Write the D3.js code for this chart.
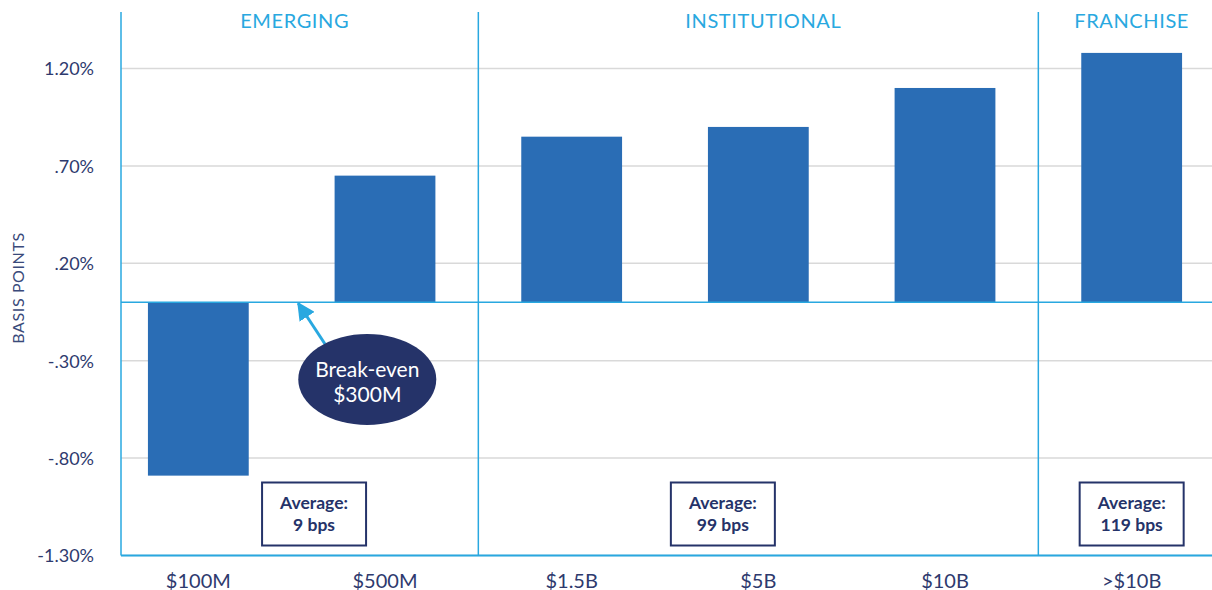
<!DOCTYPE html>
<html><head><meta charset="utf-8">
<script src="https://cdn.jsdelivr.net/npm/d3@7"></script>
<style>body{margin:0;background:#fff}svg{display:block}</style>
</head><body>
<svg id="c" width="1212" height="590"></svg>
<script>
const categories = ["$100M", "$500M", "$1.5B", "$5B", "$10B", ">$10B"];
const values = [-0.89, 0.65, 0.85, 0.90, 1.10, 1.28];
const groups = ["EMERGING", "EMERGING", "INSTITUTIONAL", "INSTITUTIONAL", "INSTITUTIONAL", "FRANCHISE"];
const sectionNames = ["EMERGING", "INSTITUTIONAL", "FRANCHISE"];
const tickValues = [1.2, 0.7, 0.2, -0.3, -0.8, -1.3];
const tickLabels = ["1.20%", ".70%", ".20%", "-.30%", "-.80%", "-1.30%"];
const averageLines = [["Average:", "9 bps"], ["Average:", "99 bps"], ["Average:", "119 bps"]];
const averagePos = [0.62, 2.81, 5];   // position in category-index units
const breakEvenLines = ["Break-even", "$300M"];
const breakEvenPos = 0.535;           // $300M lies between $100M and $500M

const navy = "#253369", blue = "#2a6db5", light = "#29a8e0", grid = "#d9d9d9";
const svg = d3.select("#c");
const pLeft = 121, pRight = 1212, pTop = 12, pBottom = 555.5;

const x = d3.scaleBand().domain(categories).range([105, 1225]).paddingInner(0.46).paddingOuter(0.23);
const y = d3.scaleLinear().domain([-1.3, 1.49]).range([pBottom, pTop]);
const bw = x.bandwidth();
const cx = i => x(categories[0]) + bw / 2 + i * x.step();

// gridlines
svg.append("g").selectAll("line").data(tickValues).join("line")
  .attr("x1", pLeft).attr("x2", pRight)
  .attr("y1", d => y(d)).attr("y2", d => y(d))
  .attr("stroke", grid).attr("stroke-width", 1.5);

// y axis labels
const yAxis = d3.axisLeft(y).tickValues(tickValues).tickSize(0).tickPadding(0)
  .tickFormat((d, i) => tickLabels[i]);
const ya = svg.append("g").attr("transform", `translate(94,0)`).call(yAxis);
ya.select(".domain").remove();
ya.selectAll("text").attr("font-family", "Lato, 'Open Sans', sans-serif").attr("font-size", 18)
  .attr("fill", "#2e3a6e").attr("dy", "0.35em");

// axis title
svg.append("text").attr("transform", `translate(24,288) rotate(-90)`)
  .attr("text-anchor", "middle").attr("font-family", "Lato, sans-serif")
  .attr("font-size", 16).attr("fill", "#3a4a7a").attr("letter-spacing", 0.6).text("BASIS POINTS");

// bars
svg.append("g").selectAll("rect").data(values).join("rect")
  .attr("x", (d, i) => x(categories[i])).attr("width", bw)
  .attr("y", d => y(Math.max(0, d))).attr("height", d => Math.abs(y(d) - y(0)))
  .attr("fill", blue);

// section separators
const sepX = [pLeft];
for (let i = 1; i < categories.length; i++) {
  if (groups[i] !== groups[i - 1]) sepX.push((x(categories[i - 1]) + bw + x(categories[i])) / 2);
}
svg.append("g").selectAll("line").data(sepX).join("line")
  .attr("x1", d => d).attr("x2", d => d).attr("y1", pTop).attr("y2", pBottom)
  .attr("stroke", light).attr("stroke-width", 1.5);

// zero line and bottom axis
svg.append("line").attr("x1", pLeft).attr("x2", pRight).attr("y1", y(0)).attr("y2", y(0))
  .attr("stroke", light).attr("stroke-width", 1.5);
svg.append("line").attr("x1", pLeft).attr("x2", pRight).attr("y1", pBottom).attr("y2", pBottom)
  .attr("stroke", light).attr("stroke-width", 2);

// x labels
const xAxis = d3.axisBottom(x).tickSize(0).tickPadding(0);
const xa = svg.append("g").attr("transform", `translate(0,${pBottom})`).call(xAxis);
xa.select(".domain").remove();
xa.selectAll("text").attr("font-family", "Lato, 'Open Sans', sans-serif").attr("font-size", 20)
  .attr("fill", "#2e3a6e").attr("y", 32).attr("dy", 0);

// section headers
sectionNames.forEach(name => {
  const idx = groups.map((g, i) => g === name ? i : -1).filter(i => i >= 0);
  const c = d3.mean(idx, i => x(categories[i]) + bw / 2);
  svg.append("text").attr("x", name === "EMERGING" ? c + 3 : name === "INSTITUTIONAL" ? c + 5 : c)
    .attr("y", 28).attr("text-anchor", "middle")
    .attr("font-family", "Lato, 'Open Sans', sans-serif")
    .attr("font-size", 20).attr("fill", light).attr("letter-spacing", 0.6).text(name);
});

// average boxes
averageLines.forEach((lines, k) => {
  const c = cx(averagePos[k]);
  const g = svg.append("g");
  g.append("rect").attr("x", c - 52).attr("y", 482.5).attr("width", 104).attr("height", 63)
    .attr("fill", "#fff").attr("stroke", navy).attr("stroke-width", 2);
  lines.forEach((t, j) => g.append("text").attr("x", c).attr("y", 509 + j * 22)
    .attr("text-anchor", "middle").attr("font-family", "Lato, sans-serif")
    .attr("font-size", 17.5).attr("font-weight", "bold").attr("fill", navy).text(t));
});

// break-even annotation
const tipX = cx(breakEvenPos), tipY = y(0);
const ex = cx(0.905), ey = 379.5;
svg.append("defs").append("marker").attr("id", "ah").attr("viewBox", "0 0 10 10")
  .attr("refX", 9).attr("refY", 5).attr("markerWidth", 6).attr("markerHeight", 6)
  .attr("markerUnits", "strokeWidth").attr("orient", "auto")
  .append("path").attr("d", "M0,0L10,5L0,10z").attr("fill", light);
svg.append("line").attr("x1", 325).attr("y1", 344).attr("x2", tipX).attr("y2", tipY + 1)
  .attr("stroke", light).attr("stroke-width", 3).attr("marker-end", "url(#ah)");
svg.append("ellipse").attr("cx", ex).attr("cy", ey).attr("rx", 69).attr("ry", 45.5).attr("fill", navy);
breakEvenLines.forEach((t, j) => svg.append("text").attr("x", ex).attr("y", ey - 3 + j * 25)
  .attr("text-anchor", "middle").attr("font-family", "Lato, 'Open Sans', sans-serif")
  .attr("font-size", 21).attr("fill", "#fff").text(t));
</script>
</body></html>
